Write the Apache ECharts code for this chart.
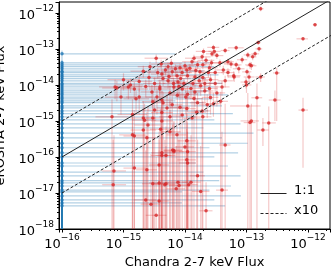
<!DOCTYPE html>
<html>
<head>
<meta charset="utf-8">
<script src="https://cdn.jsdelivr.net/npm/echarts@6/dist/echarts.min.js"></script>
<style>
html,body{margin:0;padding:0;background:#fff;}
#chart{width:332px;height:266px;}
</style>
</head>
<body>
<div id="chart"></div>
<script>
// Detected sources: [chandraFlux, erositaFlux, xLow, xHigh, yLow, yHigh]
// (a lower bound of 1e-19 means the error bar runs off the bottom of the plot)
const redSources = [
  [1.7e-13, 1.3e-12, 1.5e-13, 1.9e-13, 1.1e-12, 1.5e-12],
  [1.3e-12, 4.7e-13, 1.2e-12, 1.4e-12, 4.2e-13, 5.2e-13],
  [8.3e-13, 1.9e-13, 6.5e-13, 1.0e-12, 1.7e-13, 2.1e-13],
  [1.55e-13, 1.5e-13, 1.4e-13, 1.7e-13, 1.3e-13, 1.7e-13],
  [1.6e-13, 1.0e-13, 1.4e-13, 1.8e-13, 8.5e-14, 1.15e-13],
  [2.9e-14, 1.1e-13, 2.3e-14, 3.6e-14, 9e-14, 1.3e-13],
  [6.8e-14, 1.07e-13, 5e-14, 9e-14, 9e-14, 1.25e-13],
  [4.5e-14, 9e-14, 3.8e-14, 5.3e-14, 7.5e-14, 1.05e-13],
  [1.38e-13, 7.3e-14, 1.2e-13, 1.6e-13, 6e-14, 8.6e-14],
  [1.05e-13, 6.8e-14, 9e-14, 1.2e-13, 5.5e-14, 8e-14],
  [1.26e-13, 6e-14, 1.1e-13, 1.45e-13, 4.8e-14, 7.2e-14],
  [2.75e-14, 7.3e-14, 2.2e-14, 3.4e-14, 6e-14, 8.6e-14],
  [5e-14, 4.4e-14, 4e-14, 6.2e-14, 3.5e-14, 5.3e-14],
  [6.8e-14, 3.6e-14, 5.5e-14, 8.3e-14, 2.8e-14, 4.4e-14],
  [1.14e-13, 3.6e-14, 9.5e-14, 1.35e-13, 2.8e-14, 4.4e-14],
  [3.1e-13, 2.15e-14, 2.7e-13, 3.5e-13, 1e-15, 3e-14],
  [1.02e-13, 2.3e-14, 8.5e-14, 1.2e-13, 1.8e-14, 2.8e-14],
  [1.7e-13, 1.66e-14, 1.4e-13, 2e-13, 1.2e-14, 2.1e-14],
  [6.3e-14, 1.66e-14, 5e-14, 7.8e-14, 1.2e-14, 2.1e-14],
  [9.8e-14, 1.2e-14, 8e-14, 1.2e-13, 8e-15, 1.6e-14],
  [1.48e-13, 4.4e-15, 1.2e-13, 1.8e-13, 1e-19, 1.1e-14],
  [2.9e-13, 3.8e-15, 2.3e-13, 3.6e-13, 1e-15, 7e-15],
  [8.3e-13, 2e-15, 7e-13, 1e-12, 5e-17, 4.4e-15],
  [2.3e-13, 8.8e-16, 1.8e-13, 3e-13, 1e-19, 2.5e-15],
  [1.14e-13, 9e-16, 9e-14, 1.4e-13, 1e-19, 2.5e-15],
  [1.85e-13, 5.6e-16, 1.5e-13, 2.3e-13, 2e-16, 1.2e-15],
  [4.5e-14, 2.15e-16, 3.6e-14, 5.5e-14, 1e-19, 3e-15],
  [2.2e-14, 3.2e-18, 1.7e-14, 2.8e-14, 1e-19, 2e-17],
  [4e-14, 1.2e-17, 3.2e-14, 5e-14, 1e-19, 5e-16],
  [1.6e-14, 3e-17, 1.2e-14, 2.1e-14, 1e-19, 3e-16],
  [1.8e-14, 1.1e-17, 1.3e-14, 2.5e-14, 1e-19, 2e-16],
  [1.25e-14, 2e-17, 9e-15, 1.8e-14, 1e-19, 4e-16],
  [1.15e-14, 1.7e-17, 8e-15, 1.6e-14, 1e-19, 3e-16],
  [7.7e-15, 2e-17, 5e-15, 1.1e-14, 1e-19, 5e-16],
  [8e-15, 1.6e-17, 5.5e-15, 1.2e-14, 1e-19, 3e-16],
  [7.2e-15, 1.3e-17, 5e-15, 1e-14, 1e-19, 2e-16],
  [1.07e-14, 8.3e-17, 7.5e-15, 1.5e-14, 1e-19, 6e-16],
  [1.1e-14, 6.8e-17, 8e-15, 1.5e-14, 1e-19, 5e-16],
  [6.3e-15, 1.56e-16, 4.5e-15, 9e-15, 1e-19, 8e-16],
  [6.6e-15, 1.5e-16, 4.5e-15, 9e-15, 1e-19, 9e-16],
  [1e-14, 1.9e-16, 7e-15, 1.4e-14, 1e-19, 1.2e-15],
  [1.1e-14, 1.4e-16, 8e-15, 1.5e-14, 1e-19, 9e-16],
  [4.9e-15, 1.1e-16, 3.3e-15, 7e-15, 1e-19, 7e-16],
  [4.9e-15, 1.8e-17, 3.2e-15, 7e-15, 1e-19, 2e-16],
  [7.4e-15, 4.1e-16, 5e-15, 1.05e-14, 1e-19, 1.5e-15],
  [6.8e-16, 1.7e-17, 4.5e-16, 1.1e-15, 1e-19, 3e-16],
  [7e-16, 4.1e-17, 4.5e-16, 1.1e-15, 1e-19, 4e-16],
  [1.5e-15, 4.9e-17, 1e-15, 2.3e-15, 1e-19, 5e-16],
  [1.5e-15, 3.8e-16, 1e-15, 2.3e-15, 1e-19, 2e-15],
  [2.4e-15, 3.4e-16, 1.6e-15, 3.5e-15, 1e-19, 1.8e-15],
  [2.4e-15, 4.4e-17, 1.6e-15, 3.5e-15, 1e-19, 4e-16],
  [3e-15, 1.8e-17, 2e-15, 4.5e-15, 1e-19, 3e-16],
  [3.8e-15, 6e-17, 2.6e-15, 5.5e-15, 1e-19, 5e-16],
  [4.2e-15, 1.1e-16, 2.8e-15, 6e-15, 1e-19, 7e-16],
  [3.8e-15, 1.9e-17, 2.6e-15, 5.5e-15, 1e-19, 3e-16],
  [2.3e-15, 6.4e-18, 1.5e-15, 3.4e-15, 1e-19, 1.5e-16],
  [2.8e-15, 4.9e-18, 1.9e-15, 4e-15, 1e-19, 1.2e-16],
  [3.4e-15, 2.4e-18, 2.3e-15, 5e-15, 1e-19, 1e-16],
  [3.8e-15, 6e-18, 2.6e-15, 5.5e-15, 1e-19, 1.5e-16],
  [4.7e-15, 1.7e-17, 3.2e-15, 7e-15, 1e-19, 3e-16],
  [2.1e-15, 2.4e-14, 1.3e-15, 3.4e-15, 1.6e-14, 3.4e-14],
  [7.3e-16, 8.8e-15, 4e-16, 1.3e-15, 4e-15, 1.4e-14],
  [1.3e-15, 1e-14, 8e-16, 2.1e-15, 6e-15, 1.5e-14],
  [1.5e-15, 7.7e-15, 9e-16, 2.5e-15, 4e-15, 1.2e-14],
  [9.1e-16, 4.6e-15, 5e-16, 1.6e-15, 1.5e-15, 8e-15],
  [1.6e-15, 4.1e-15, 1e-15, 2.6e-15, 1.5e-15, 7e-15],
  [1.4e-15, 1.5e-15, 8e-16, 2.4e-15, 1e-19, 4e-15],
  [2.1e-15, 1.2e-15, 1.3e-15, 3.4e-15, 1e-19, 3.5e-15],
  [2.5e-15, 7.7e-16, 1.5e-15, 4e-15, 1e-19, 2.5e-15],
  [3.2e-15, 1.1e-14, 2.1e-15, 4.8e-15, 7e-15, 1.6e-14],
  [3.9e-15, 7.7e-15, 2.6e-15, 5.8e-15, 4e-15, 1.2e-14],
  [4.2e-15, 2e-14, 2.8e-15, 6.3e-15, 1.3e-14, 2.8e-14],
  [3.5e-15, 4.6e-15, 2.3e-15, 5.3e-15, 1.5e-15, 8e-15],
  [4.2e-15, 3.8e-15, 2.8e-15, 6.3e-15, 1e-15, 7e-15],
  [3.2e-15, 2e-15, 2.1e-15, 4.8e-15, 1e-19, 4.5e-15],
  [4.2e-15, 1.7e-15, 2.8e-15, 6.3e-15, 1e-19, 4e-15],
  [4.1e-15, 3.8e-14, 2.8e-15, 6e-15, 2.8e-14, 5e-14],
  [3.6e-15, 2.2e-14, 2.4e-15, 5.4e-15, 1.5e-14, 3e-14],
  [5.3e-15, 3.2e-14, 3.6e-15, 7.8e-15, 2.3e-14, 4.2e-14],
  [6.2e-15, 2.3e-14, 4.2e-15, 9e-15, 1.6e-14, 3.1e-14],
  [7.4e-15, 1.8e-14, 5e-15, 1.1e-14, 1.2e-14, 2.5e-14],
  [9e-15, 2.2e-14, 6.2e-15, 1.3e-14, 1.6e-14, 2.9e-14],
  [8.3e-15, 3e-14, 5.7e-15, 1.2e-14, 2.2e-14, 3.9e-14],
  [1.07e-14, 2.6e-14, 7.5e-15, 1.5e-14, 1.9e-14, 3.4e-14],
  [1e-14, 3.4e-14, 7e-15, 1.4e-14, 2.5e-14, 4.4e-14],
  [4.4e-15, 1.5e-14, 3e-15, 6.5e-15, 9e-15, 2.1e-14],
  [5.3e-15, 1.3e-14, 3.6e-15, 7.8e-15, 8e-15, 1.9e-14],
  [7.7e-15, 1.2e-14, 5.2e-15, 1.1e-14, 7e-15, 1.7e-14],
  [9.6e-15, 1.1e-14, 6.5e-15, 1.4e-14, 7e-15, 1.5e-14],
  [3.9e-15, 8.8e-15, 2.6e-15, 5.8e-15, 4e-15, 1.4e-14],
  [6.6e-15, 8.8e-15, 4.5e-15, 9.5e-15, 5e-15, 1.3e-14],
  [9e-15, 7.7e-15, 6.2e-15, 1.3e-14, 4e-15, 1.1e-14],
  [2.9e-15, 6.4e-15, 1.9e-15, 4.4e-15, 2.5e-15, 1e-14],
  [5.7e-15, 6e-15, 3.8e-15, 8.5e-15, 2.5e-15, 9.5e-15],
  [1.2e-15, 8.8e-15, 7e-16, 2e-15, 4e-15, 1.4e-14],
  [7.8e-16, 8.2e-15, 4.5e-16, 1.4e-15, 3.5e-15, 1.3e-14],
  [1.8e-15, 4.6e-15, 1.1e-15, 2.9e-15, 1.5e-15, 8e-15],
  [1.03e-14, 4.6e-15, 7e-15, 1.5e-14, 1.5e-15, 8e-15],
  [3.3e-14, 6.5e-14, 2.6e-14, 4.2e-14, 5.2e-14, 7.8e-14],
  [1.9e-14, 6e-14, 1.4e-14, 2.6e-14, 4.7e-14, 7.3e-14],
  [1.3e-14, 4.4e-14, 9e-15, 1.8e-14, 3.4e-14, 5.5e-14],
  [1.6e-14, 3.6e-14, 1.1e-14, 2.2e-14, 2.7e-14, 4.6e-14],
  [1.95e-14, 3.6e-14, 1.4e-14, 2.7e-14, 2.7e-14, 4.6e-14],
  [2.7e-14, 4.1e-14, 2e-14, 3.6e-14, 3.1e-14, 5.1e-14],
  [3.7e-14, 4.1e-14, 2.8e-14, 4.9e-14, 3.1e-14, 5.1e-14],
  [5.6e-14, 3.8e-14, 4.3e-14, 7.3e-14, 2.9e-14, 4.8e-14],
  [1.2e-13, 3.4e-14, 1e-13, 1.45e-13, 2.6e-14, 4.3e-14],
  [4.2e-14, 2.6e-14, 3.2e-14, 5.5e-14, 1.9e-14, 3.4e-14],
  [1.75e-14, 2.3e-14, 1.2e-14, 2.5e-14, 1.6e-14, 3e-14],
  [2.4e-14, 2.2e-14, 1.7e-14, 3.3e-14, 1.6e-14, 2.9e-14],
  [3.1e-14, 2.2e-14, 2.3e-14, 4.1e-14, 1.6e-14, 2.9e-14],
  [6.2e-14, 1.8e-14, 4.8e-14, 8e-14, 1.3e-14, 2.4e-14],
  [1.1e-13, 1.66e-14, 9e-14, 1.35e-13, 1.2e-14, 2.2e-14],
  [1.45e-14, 1.66e-14, 1e-14, 2e-14, 1.1e-14, 2.3e-14],
  [1.95e-14, 1.6e-14, 1.4e-14, 2.7e-14, 1.1e-14, 2.2e-14],
  [1.35e-14, 1.1e-14, 9.5e-15, 1.9e-14, 6.5e-15, 1.6e-14],
  [2.1e-14, 1.1e-14, 1.5e-14, 2.9e-14, 6.5e-15, 1.6e-14],
  [3.1e-14, 1.1e-14, 2.3e-14, 4.1e-14, 6.5e-15, 1.6e-14],
  [4e-14, 8.8e-15, 3e-14, 5.3e-14, 5e-15, 1.3e-14],
  [1e-13, 1e-14, 8.5e-14, 1.2e-13, 6e-15, 1.4e-14],
  [1.45e-14, 6.4e-15, 1e-14, 2e-14, 2.5e-15, 1e-14],
  [2.1e-14, 6.8e-15, 1.5e-14, 2.9e-14, 3e-15, 1.1e-14],
  [3.3e-14, 6e-15, 2.4e-14, 4.5e-14, 2.5e-15, 9.5e-15],
  [3e-15, 3.4e-15, 2e-15, 4.5e-15, 1e-19, 7e-15],
  [4.4e-15, 3.2e-15, 3e-15, 6.5e-15, 1e-19, 6.5e-15],
  [6.2e-15, 2.8e-15, 4.2e-15, 9e-15, 1e-19, 6e-15],
  [8.3e-15, 2.4e-15, 5.7e-15, 1.2e-14, 1e-19, 5.5e-15],
  [5.1e-15, 2.3e-15, 3.5e-15, 7.5e-15, 1e-19, 5e-15],
  [1.07e-14, 2.2e-15, 7.5e-15, 1.5e-14, 1e-19, 5e-15],
  [6.5e-16, 1.3e-15, 3.5e-16, 1.2e-15, 1e-19, 4e-15],
  [3e-15, 1.2e-15, 2e-15, 4.5e-15, 1e-19, 3.5e-15],
  [5.7e-15, 1.3e-15, 3.8e-15, 8.5e-15, 1e-19, 3.5e-15],
  [9e-15, 1.45e-15, 6.2e-15, 1.3e-14, 1e-19, 4e-15],
  [2.2e-15, 1.05e-15, 1.4e-15, 3.4e-15, 1e-19, 3e-15],
  [4.2e-15, 1e-15, 2.8e-15, 6.3e-15, 1e-19, 3e-15],
  [1.4e-15, 4.1e-16, 8.5e-16, 2.3e-15, 1e-19, 2e-15],
  [2.1e-15, 5.6e-16, 1.3e-15, 3.4e-15, 1e-19, 2.2e-15],
  [4e-15, 5.9e-16, 2.7e-15, 6e-15, 1e-19, 2.2e-15],
  [5.7e-15, 5e-16, 3.8e-15, 8.5e-15, 1e-19, 2e-15],
  [1.07e-14, 2.8e-16, 7.5e-15, 1.5e-14, 1e-19, 1.6e-15],
  [4.2e-15, 1.3e-16, 2.8e-15, 6.3e-15, 1e-19, 9e-16],
  [6.6e-15, 1.4e-16, 4.5e-15, 9.5e-15, 1e-19, 1e-15],
  [1.6e-14, 3.2e-15, 1.2e-14, 2.2e-14, 1.5e-15, 6e-15],
  [2.3e-14, 2.8e-15, 1.7e-14, 3.1e-14, 1.2e-15, 5.5e-15],
  [2.9e-14, 3e-15, 2.2e-14, 3.9e-14, 1.3e-15, 6e-15],
  [1.55e-14, 1.75e-15, 1.1e-14, 2.2e-14, 1e-19, 4e-15],
  [1.9e-14, 1.9e-15, 1.4e-14, 2.6e-14, 1e-19, 4.5e-15],
  [1.3e-14, 1.2e-15, 9e-15, 1.8e-14, 1e-19, 3.5e-15],
  [1.95e-14, 1.3e-15, 1.4e-14, 2.7e-14, 1e-19, 3.5e-15],
  [1.05e-13, 2.6e-15, 5.4e-14, 1.7e-13, 1e-19, 6e-15],
  [1.2e-13, 1e-15, 8e-14, 1.6e-13, 1e-19, 3e-15],
  [1.2e-14, 2.9e-14, 8.5e-15, 1.7e-14, 2.1e-14, 3.8e-14],
  [1.5e-14, 2.5e-14, 1.1e-14, 2.1e-14, 1.8e-14, 3.3e-14],
  [2.2e-14, 4.8e-14, 1.6e-14, 3e-14, 3.7e-14, 6e-14],
  [2.5e-14, 3e-14, 1.8e-14, 3.4e-14, 2.2e-14, 3.9e-14],
  [1.1e-14, 1.8e-14, 7.5e-15, 1.6e-14, 1.2e-14, 2.5e-14],
  [1.7e-14, 1.3e-14, 1.2e-14, 2.4e-14, 8e-15, 1.9e-14],
  [2.6e-14, 1.4e-14, 1.9e-14, 3.5e-14, 9e-15, 2e-14],
  [8.5e-15, 1.5e-14, 5.8e-15, 1.25e-14, 9.5e-15, 2.1e-14],
  [1.25e-14, 8e-15, 8.5e-15, 1.8e-14, 4e-15, 1.3e-14],
  [1.8e-14, 9.5e-15, 1.3e-14, 2.5e-14, 5e-15, 1.4e-14],
  [2.5e-14, 8e-15, 1.8e-14, 3.4e-14, 4e-15, 1.2e-14],
  [4.5e-14, 1.3e-14, 3.4e-14, 6e-14, 8.5e-15, 1.8e-14],
  [5e-14, 2.2e-14, 3.9e-14, 6.4e-14, 1.6e-14, 2.9e-14],
  [7.5e-14, 2.8e-14, 6e-14, 9.3e-14, 2.1e-14, 3.6e-14],
  [8.5e-14, 5e-14, 7e-14, 1.03e-13, 4e-14, 6.1e-14],
  [3e-14, 8.5e-14, 2.4e-14, 3.8e-14, 7e-14, 1.02e-13],
  [2e-14, 8.5e-14, 1.5e-14, 2.7e-14, 6.8e-14, 1.03e-13],
  [1.4e-14, 5.5e-14, 1e-14, 1.95e-14, 4.2e-14, 6.9e-14],
  [6e-15, 4e-14, 4e-15, 9e-15, 2.9e-14, 5.2e-14],
  [7e-15, 2.8e-14, 4.7e-15, 1.05e-14, 1.9e-14, 3.7e-14],
  [5.5e-15, 1.7e-14, 3.7e-15, 8.2e-15, 1.05e-14, 2.4e-14],
  [6.5e-15, 1.1e-14, 4.4e-15, 9.6e-15, 6e-15, 1.6e-14],
  [8e-15, 9e-15, 5.4e-15, 1.18e-14, 4.5e-15, 1.35e-14],
  [1.1e-14, 5.5e-15, 7.5e-15, 1.6e-14, 1.8e-15, 9e-15],
  [1.4e-14, 4.2e-15, 1e-14, 1.95e-14, 1e-19, 7.5e-15],
  [2.6e-14, 4.5e-15, 1.9e-14, 3.5e-14, 1.5e-15, 8e-15],
  [3.8e-14, 3.5e-15, 2.9e-14, 5e-14, 1e-19, 6.5e-15],
  [7.5e-15, 5.2e-15, 5e-15, 1.1e-14, 1.5e-15, 9e-15],
  [4.8e-15, 2.6e-14, 3.2e-15, 7.2e-15, 1.8e-14, 3.5e-14],
  [2.6e-15, 1.6e-14, 1.7e-15, 4e-15, 9e-15, 2.4e-14],
  [2.3e-15, 9e-15, 1.4e-15, 3.6e-15, 4.5e-15, 1.4e-14],
  [1e-15, 1.4e-14, 5.5e-16, 1.8e-15, 7e-15, 2.1e-14],
  [1.8e-15, 1.25e-14, 1.1e-15, 2.9e-15, 6.5e-15, 1.9e-14],
  [2.7e-15, 3.2e-14, 1.7e-15, 4.2e-15, 2.1e-14, 4.4e-14],
  [3.4e-15, 5.5e-14, 2.2e-15, 5.2e-15, 4e-14, 7e-14]
];

// Chandra non-detections, plotted at the lower edge: [erositaFlux, xHigh, yLow, yHigh]
const blueFloorX = 1e-16;
const blueSources = [
  [7.3e-14, 7e-15, 5.5e-14, 9e-14],
  [4.1e-14, 2.5e-14, 2.8e-14, 5.5e-14],
  [3.6e-14, 1.5e-14, 2.4e-14, 4.8e-14],
  [3.2e-14, 3e-14, 2e-14, 4.4e-14],
  [2.8e-14, 8e-15, 1.8e-14, 3.8e-14],
  [2.4e-14, 2e-14, 1.5e-14, 3.4e-14],
  [2.2e-14, 1.2e-14, 1.3e-14, 3.1e-14],
  [1.9e-14, 3.5e-14, 1.1e-14, 2.8e-14],
  [1.7e-14, 6e-15, 1e-14, 2.5e-14],
  [1.5e-14, 2.2e-14, 8.5e-15, 2.3e-14],
  [1.3e-14, 1e-14, 7e-15, 2e-14],
  [1.1e-14, 4e-14, 6e-15, 1.7e-14],
  [1e-14, 1.6e-14, 5e-15, 1.6e-14],
  [8.8e-15, 3e-14, 4.5e-15, 1.4e-14],
  [7.7e-15, 9e-15, 3.8e-15, 1.25e-14],
  [6.8e-15, 2.5e-14, 3.2e-15, 1.1e-14],
  [6e-15, 1.8e-14, 2.8e-15, 1e-14],
  [5.3e-15, 5e-14, 2.4e-15, 9e-15],
  [4.6e-15, 1.2e-14, 2e-15, 8e-15],
  [4.1e-15, 2.8e-14, 1.7e-15, 7e-15],
  [3.6e-15, 7e-15, 1.4e-15, 6.5e-15],
  [3.2e-15, 2e-14, 1.2e-15, 6e-15],
  [2.6e-15, 4e-14, 9e-16, 5e-15],
  [2.3e-15, 1e-14, 8e-16, 4.5e-15],
  [1.9e-15, 2.4e-14, 6e-16, 4e-15],
  [1.6e-15, 6e-14, 4e-16, 3.5e-15],
  [1.3e-15, 1.5e-14, 3e-16, 3e-15],
  [1.07e-15, 3e-14, 2e-16, 2.6e-15],
  [8.3e-16, 8e-14, 1.5e-16, 2.2e-15],
  [6.4e-16, 2e-14, 1e-16, 1.8e-15],
  [4.6e-16, 1.3e-13, 7e-17, 1.4e-15],
  [3.4e-16, 4e-14, 5e-17, 1.1e-15],
  [2.4e-16, 1.05e-13, 3e-17, 9e-16],
  [1.8e-16, 2.5e-14, 2e-17, 7e-16],
  [1.3e-16, 7.3e-14, 1e-17, 5.5e-16],
  [1e-16, 3e-14, 1e-19, 4.5e-16],
  [6.8e-17, 1.5e-14, 1e-19, 3.5e-16],
  [5.6e-17, 5e-14, 1e-19, 3e-16],
  [3.8e-17, 2e-14, 1e-19, 2.4e-16],
  [3e-17, 8e-14, 1e-19, 2e-16],
  [2.2e-17, 3.6e-14, 1e-19, 1.6e-16],
  [1.9e-17, 1.2e-14, 1e-19, 1.4e-16],
  [1.56e-17, 5.6e-14, 1e-19, 1.2e-16],
  [1.2e-17, 2.5e-14, 1e-19, 1e-16],
  [1.07e-17, 9e-15, 1e-19, 9e-17],
  [8.3e-18, 8.1e-14, 1e-19, 8e-17],
  [6.4e-18, 3e-14, 1e-19, 7e-17],
  [5.3e-18, 8.9e-15, 1e-19, 6e-17],
  [4.4e-18, 4.5e-14, 1e-19, 5e-17]
];

// Reference lines
const oneToOne = [[1e-16, 1e-16], [3e-12, 3e-12]];
const timesTen = [[1e-16, 1e-15], [3e-13, 3e-12]];
const divTen = [[1e-16, 1e-17], [3e-12, 3e-13]];
const legendLabels = ['1:1', 'x10'];

const xMin = 8.94e-17, xMax = 2.28e-12;
const yMin = 1e-18, yMax = 2.0e-12;

const RED = '#d62728', BLUE = '#1f77b4';

function powLabel(v) {
  const e = Math.log10(v);
  const r = Math.round(e);
  if (Math.abs(e - r) > 1e-6) return '';
  return '{b|10}{s|\u2212' + Math.abs(r) + '}';
}
const richLbl = {
  b: {fontFamily: 'DejaVu Sans', fontSize: 13, color: '#000', lineHeight: 18, verticalAlign: 'bottom'},
  s: {fontFamily: 'DejaVu Sans', fontSize: 9, color: '#000', lineHeight: 10, verticalAlign: 'top'}
};

const chart = echarts.init(document.getElementById('chart'), null, {renderer: 'canvas'});

function errRender(color) {
  return function (params, api) {
    const x = api.value(0), y = api.value(1);
    const p1 = api.coord([api.value(2), y]);
    const p2 = api.coord([api.value(3), y]);
    const p3 = api.coord([x, api.value(4)]);
    const p4 = api.coord([x, api.value(5)]);
    const st = {stroke: color, lineWidth: 1.2};
    return {
      type: 'group',
      children: [
        {type: 'line', shape: {x1: p1[0], y1: p1[1], x2: p2[0], y2: p2[1]}, style: st},
        {type: 'line', shape: {x1: p3[0], y1: p3[1], x2: p4[0], y2: p4[1]}, style: st}
      ]
    };
  };
}

const blueRows = blueSources.map(r => [blueFloorX, r[0], blueFloorX, r[1], r[2], r[3]]);

function dashes(x0, len, on, off) {
  const out = [];
  for (let x = x0; x < x0 + len; x += on + off) {
    out.push({type: 'line', shape: {x1: x, y1: 0, x2: Math.min(x + on, x0 + len), y2: 0},
              style: {stroke: '#222', lineWidth: 1}});
  }
  return out;
}

const option = {
  animation: false,
  backgroundColor: '#fff',
  grid: {left: 59, right: 2, top: 2, bottom: 37, containLabel: false, outerBoundsMode: 'none',
         show: true, borderColor: '#000', borderWidth: 1, backgroundColor: 'transparent'},
  xAxis: {
    type: 'log', logBase: 10, min: xMin, max: xMax,
    name: 'Chandra 2-7 keV Flux', nameLocation: 'middle', nameGap: 27,
    nameTextStyle: {fontFamily: 'DejaVu Sans', fontSize: 13, color: '#000'},
    axisLine: {lineStyle: {color: '#000', width: 1}},
    axisTick: {show: true, length: 3.5, inside: false, lineStyle: {color: '#000'}},
    minorTick: {show: true, splitNumber: 9, length: 2, lineStyle: {color: '#000'}},
    splitLine: {show: false},
    axisLabel: {formatter: powLabel, rich: richLbl, margin: 4, showMinLabel: true, showMaxLabel: true, hideOverlap: false}
  },
  yAxis: {
    type: 'log', logBase: 10, min: yMin, max: yMax,
    name: 'eROSITA 2-7 keV Flux', nameLocation: 'middle', nameGap: 51,
    nameTextStyle: {fontFamily: 'DejaVu Sans', fontSize: 13, color: '#000'},
    axisLine: {lineStyle: {color: '#000', width: 1}},
    axisTick: {show: true, length: 3.5, inside: false, lineStyle: {color: '#000'}},
    minorTick: {show: true, splitNumber: 9, length: 2, lineStyle: {color: '#000'}},
    splitLine: {show: false},
    axisLabel: {formatter: powLabel, rich: richLbl, margin: 5, hideOverlap: false}
  },
  graphic: [
    {type: 'line', left: 258, top: 191, shape: {x1: 0, y1: 0, x2: 26, y2: 0}, style: {stroke: '#222', lineWidth: 1}},
    {type: 'group', left: 258, top: 211, children: dashes(0, 26, 3, 2)},
    {type: 'text', left: 294, top: 184, style: {text: legendLabels[0], font: '13px "DejaVu Sans"', fill: '#000'}},
    {type: 'text', left: 294, top: 204, style: {text: legendLabels[1], font: '13px "DejaVu Sans"', fill: '#000'}}
  ],
  series: [
    {type: 'custom', name: 'blueErr', data: blueRows, renderItem: errRender('rgba(31,119,180,0.34)'), clip: true, z: 1, silent: true,
     encode: {x: 0, y: 1}},
    {type: 'custom', name: 'redErr', data: redSources, renderItem: errRender('rgba(214,39,40,0.25)'), clip: true, z: 2, silent: true,
     encode: {x: 0, y: 1}},
    {type: 'scatter', name: 'blue', data: blueRows.map(r => [r[0], r[1]]), symbol: 'circle', symbolSize: 3.5,
     itemStyle: {color: BLUE}, z: 3, clip: false},
    {type: 'scatter', name: 'red', data: redSources.map(r => [r[0], r[1]]), symbol: 'circle', symbolSize: 3.5,
     itemStyle: {color: RED}, z: 4},
    {type: 'line', name: '1:1', data: oneToOne, symbol: 'none', clip: true, z: 5,
     lineStyle: {color: '#222', width: 1}, itemStyle: {color: '#222'}},
    {type: 'line', name: 'x10', data: timesTen, symbol: 'none', clip: true, z: 5,
     lineStyle: {color: '#222', width: 1, type: [3, 2]}, itemStyle: {color: '#222'}},
    {type: 'line', name: 'x10', data: divTen, symbol: 'none', clip: true, z: 5,
     lineStyle: {color: '#222', width: 1, type: [3, 2]}, itemStyle: {color: '#222'}}
  ]
};
chart.setOption(option);
</script>
</body>
</html>
